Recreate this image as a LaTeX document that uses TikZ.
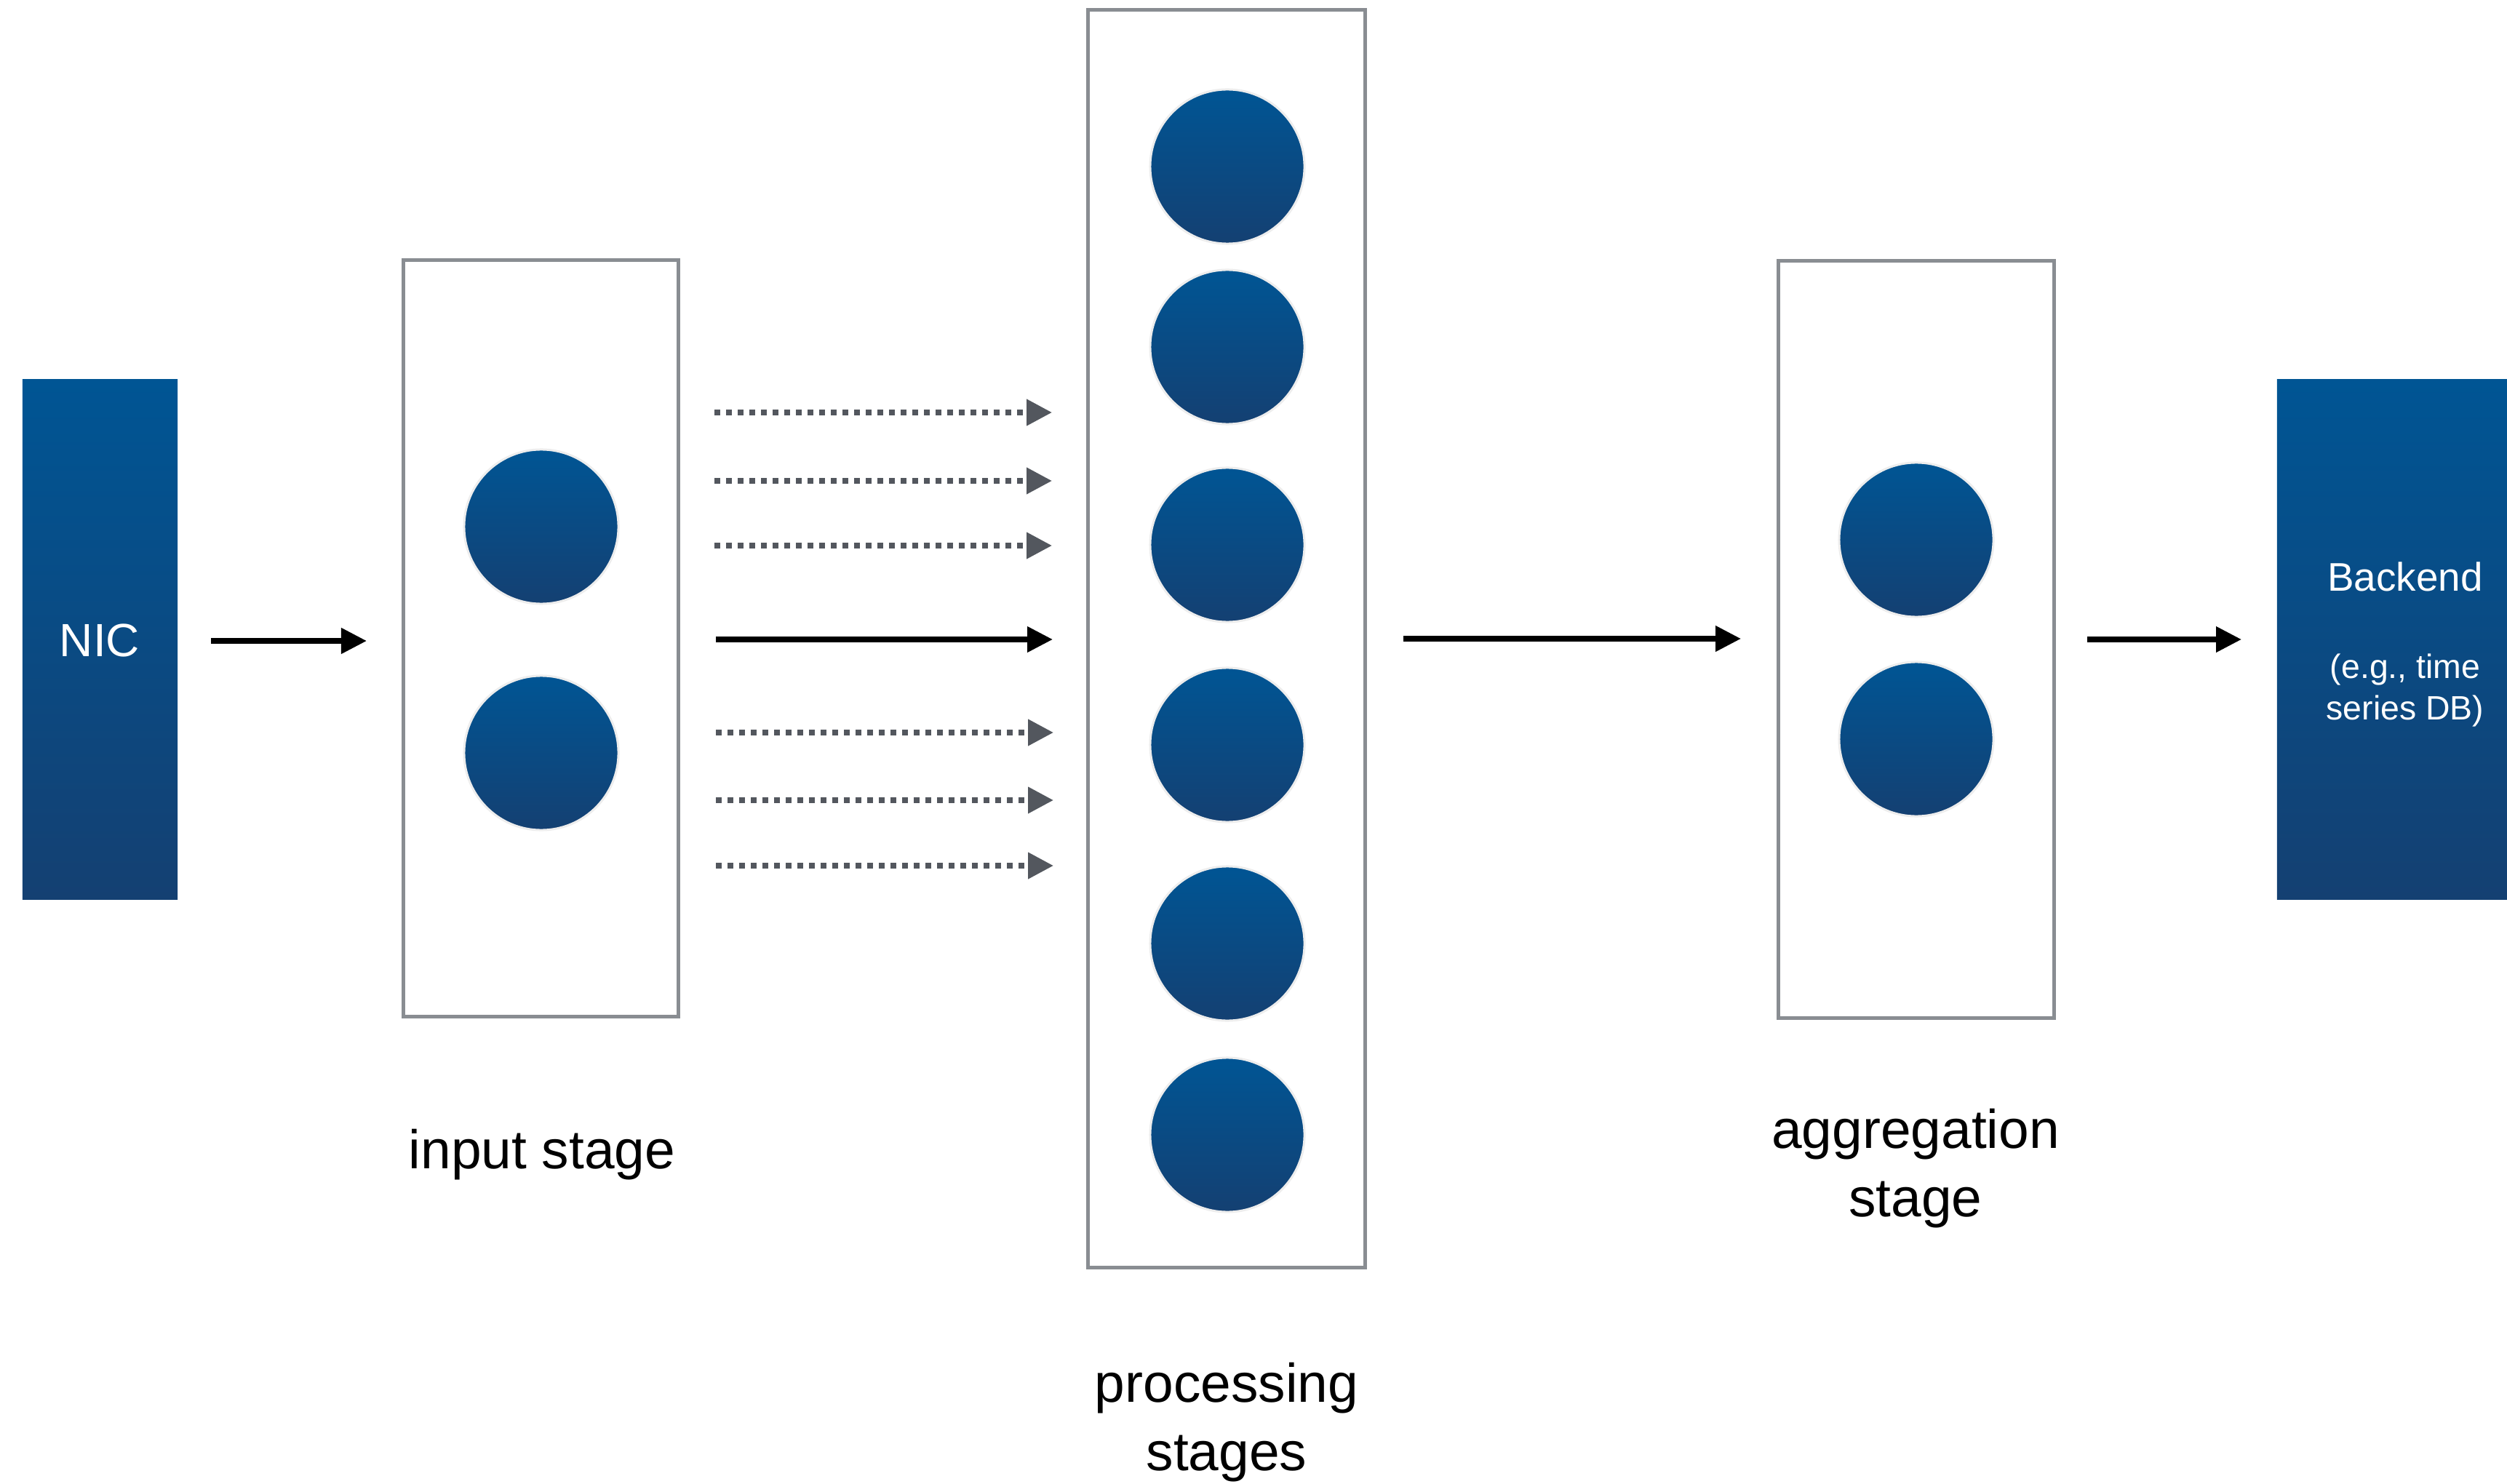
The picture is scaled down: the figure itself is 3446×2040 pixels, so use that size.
\documentclass[tikz,border=0pt]{standalone}
\usepackage{fontspec}
\setmainfont{Liberation Sans}
\usetikzlibrary{arrows.meta}
\definecolor{bluetop}{RGB}{0,85,148}
\definecolor{bluebot}{RGB}{20,64,114}
\definecolor{boxgray}{RGB}{137,141,146}
\definecolor{dotgray}{RGB}{83,87,94}
\tikzset{
  stagebox/.style={draw=boxgray, line width=0.05cm, fill=white, inner sep=0pt, minimum width=3.78cm},
  ball/.style={circle, minimum size=2.12cm, inner sep=0pt, top color=bluetop, bottom color=bluebot, draw=black!7, line width=0.03cm},
  endbox/.style={rectangle, inner sep=0pt, minimum height=7.14cm, top color=bluetop, bottom color=bluebot},
  solidarrow/.style={line width=0.075cm, -{Triangle[length=0.35cm,width=0.34cm]}},
  dotarrow/.style={draw=dotgray, line width=0.075cm, dash pattern=on 0.076cm off 0.084cm, -{Triangle[length=0.35cm,width=0.35cm,fill=dotgray]}},
  lbl/.style={font=\fontsize{21.3pt}{26.5pt}\selectfont, align=center, anchor=base, inner sep=0pt},
  boxtext/.style={text=white, align=center, anchor=base, inner sep=0pt}
}
\begin{document}
\begin{tikzpicture}[x=0.01cm, y=-0.01cm]
\useasboundingbox (0,0) rectangle (3446,2040);
% end boxes
\node[endbox, minimum width=2.13cm] (nic) at (137.5,879) {};
\node[boxtext, font=\fontsize{18.2pt}{20pt}\selectfont] (nictext) at (137,902) {NIC};
\node[endbox, minimum width=3.16cm] (backend) at (3288,879) {};
\node[boxtext, font=\fontsize{15.6pt}{16.2pt}\selectfont] (betitle) at (3306,812) {Backend};
\node[boxtext, font=\fontsize{13.2pt}{16.2pt}\selectfont] (benote) at (3306,989) {(e.g., time\\series DB)};
% stage boxes
\node[stagebox, minimum height=10.39cm] (inbox) at (743.5,877.5) {};
\node[stagebox, minimum height=17.28cm, minimum width=3.80cm] (procbox) at (1686,878) {};
\node[stagebox, minimum height=10.40cm] (aggbox) at (2634,879) {};
% balls
\node[ball] (in1) at (744,724) {};
\node[ball] (in2) at (744,1035) {};
\node[ball] (p1) at (1687,229) {};
\node[ball] (p2) at (1687,477) {};
\node[ball] (p3) at (1687,749) {};
\node[ball] (p4) at (1687,1024) {};
\node[ball] (p5) at (1687,1297) {};
\node[ball] (p6) at (1687,1560) {};
\node[ball] (ag1) at (2634,742) {};
\node[ball] (ag2) at (2634,1016) {};
% labels (anchor = baseline of last line)
\node[lbl] (inlbl) at (745,1606) {input stage};
\node[lbl] (proclbl) at (1686,2021) {processing\\stages};
\node[lbl] (agglbl) at (2633,1672) {aggregation\\stage};
% arrow end points
\coordinate (a1s) at (290,881);  \coordinate (a1e) at (504,881);
\coordinate (ms) at (984,879);   \coordinate (me) at (1447,879);
\coordinate (a2s) at (1929,878); \coordinate (a2e) at (2393,878);
\coordinate (a3s) at (2869,879); \coordinate (a3e) at (3081,879);
\coordinate (d1s) at (982,567);  \coordinate (d1e) at (1446,567);
\coordinate (d2s) at (982,661);  \coordinate (d2e) at (1446,661);
\coordinate (d3s) at (982,750);  \coordinate (d3e) at (1446,750);
\coordinate (d4s) at (984,1007); \coordinate (d4e) at (1448,1007);
\coordinate (d5s) at (984,1100); \coordinate (d5e) at (1448,1100);
\coordinate (d6s) at (984,1190); \coordinate (d6e) at (1448,1190);
% arrows
\draw[solidarrow] (a1s) -- (a1e);
\draw[solidarrow] (ms) -- (me);
\draw[solidarrow] (a2s) -- (a2e);
\draw[solidarrow] (a3s) -- (a3e);
\foreach \i in {1,...,6} \draw[dotarrow] (d\i s) -- (d\i e);
\end{tikzpicture}
\end{document}
